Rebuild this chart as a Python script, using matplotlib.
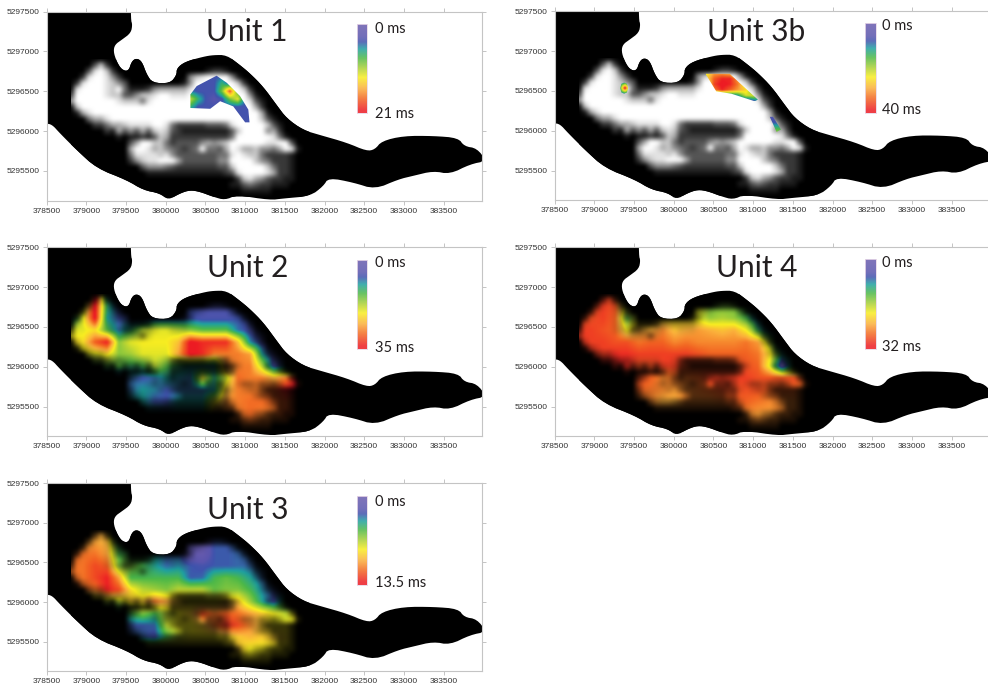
import numpy as np
import matplotlib
matplotlib.use("Agg")
import matplotlib.pyplot as plt
from matplotlib.colors import LinearSegmentedColormap
from matplotlib.patches import Polygon

x_ticks = [378500, 379000, 379500, 380000, 380500, 381000, 381500, 382000, 382500, 383000, 383500]
y_ticks = [5295500, 5296000, 5296500, 5297000, 5297500]

# shoreline outline of the survey area (runs past the axes on the map's west and north sides)
shore_x = [378200, 379560, 379560, 379560, 379580, 379560, 379445, 379360, 379340, 379380, 379445, 379530, 379570,
           379630, 379700, 379760, 379835, 380053, 380137, 380137, 380242, 380472, 380598, 380767, 380934,
           381060, 381228, 381397, 381523, 381732, 381942, 382280, 382530, 382635, 382720, 382995,
           383370, 383685, 383760, 383920, 384040, 383835, 383580, 383370, 383120, 382930, 382635, 382365,
           382050, 381985, 381820, 381480, 381312, 380893, 380745, 380598, 380431, 380305, 380179, 380031, 379927,
           379717, 379508, 379130, 378878, 378667, 378565, 378480, 378200, 378200]
shore_y = [5297800, 5297800, 5297800, 5297395, 5297335, 5297230, 5297145, 5297085, 5297000, 5296875, 5296770, 5296750, 5296875,
           5296915, 5296875, 5296710, 5296605, 5296599, 5296703, 5296787, 5296870, 5296933, 5296954, 5296954, 5296829,
           5296725, 5296557, 5296327, 5296160, 5296013, 5295951, 5295855, 5295750, 5295770, 5295875, 5295940,
           5295940, 5295915, 5295810, 5295785, 5295625, 5295585, 5295460, 5295500, 5295440, 5295395, 5295270, 5295355,
           5295415, 5295310, 5295185, 5295155, 5295135, 5295198, 5295135, 5295176, 5295239, 5295260, 5295219, 5295135, 5295219,
           5295260, 5295386, 5295533, 5295762, 5295972, 5296085, 5296095, 5296095, 5297800]

# data coverage, digits 0-9, on a 75 m grid from the north-west corner
cov_x0, cov_y0, cov_step = 378800, 5296900, 75
coverage_rows = [
 "0000000000 0000000000 0000000000 0000000000 0",
 "0000372000 0000000000 0000000000 0000000000 0",
 "0003897200 0000000000 0001221000 0000000000 0",
 "0028998520 0000000000 5789999510 0000000000 0",
 "0289998753 0000000001 5999999972 0000000000 0",
 "0899998794 1112566666 8999999997 2000000000 0",
 "2999998773 3577899888 9999999999 5100000000 0",
 "5999999987 7748999999 9999999999 8310000000 0",
 "0799999999 9999999999 9999999999 9620000000 0",
 "0168999999 9999999999 9999999999 9961000000 0",
 "0004668999 9999999999 9999999999 9973100000 0",
 "0000224667 8888998422 2223334899 9997310000 0",
 "0000002163 5363787321 1111111379 9995620000 0",
 "0000000010 1121376222 2222222499 9999841000 0",
 "0000000000 3699774233 3356567999 9998899300 0",
 "0000000000 6998675432 3494436986 6755469810 0",
 "0000000000 4888878533 3333344898 7742222100 0",
 "0000000000 2578899963 3333355999 9754222100 0",
 "0000000000 0035554322 2222233799 9997422100 0",
 "0000000000 0001111111 1111112389 9998622100 0",
 "0000000000 0000000000 0000000027 8653221100 0",
 "0000000000 0000000000 0000000113 4322111000 0",
 "0000000000 0000000000 0000000001 1111000000 0",
 "0000000000 0000000000 0000000000 0000000000 0",
]

grid_x = [378800, 378950, 379100, 379250, 379400, 379550, 379700, 379850, 380000, 380150, 380300,
          380450, 380600, 380750, 380900, 381050, 381200, 381350, 381500, 381650, 381800]
grid_y = [5296900, 5296750, 5296600, 5296450, 5296300, 5296150, 5296000, 5295850, 5295700, 5295550, 5295400, 5295250]

unit2_ms = [
 [20, 20, 35, 12, 7, 7, 7, 7, 7, 7, 7, 6, 6, 6, 7, 7, 7, 7, 7, 7, 7],
 [20, 20, 35, 12, 7, 7, 7, 7, 7, 7, 7, 6, 6, 6, 7, 7, 7, 7, 7, 7, 7],
 [10, 20, 35, 10, 7, 7, 7, 7, 7, 7, 7, 6, 6, 6, 7, 7, 7, 7, 7, 7, 7],
 [20, 20, 22, 14, 8, 12, 18, 20, 20, 18, 16, 14, 14, 14, 8, 6, 6, 6, 6, 6, 6],
 [22, 22, 30, 34, 16, 20, 21, 21, 21, 24, 35, 33, 33, 33, 24, 9, 6, 6, 6, 6, 6],
 [20, 20, 20, 22, 16, 17, 20, 20, 20, 26, 35, 33, 28, 28, 28, 26, 10, 6, 6, 6, 6],
 [14, 14, 14, 14, 14, 12, 13, 18, 14, 12, 10, 10, 10, 27, 28, 28, 18, 6, 9, 8, 8],
 [7, 7, 7, 7, 7, 8, 7, 8, 10, 9, 8, 20, 11, 19, 29, 28, 28, 25, 28, 35, 0],
 [8, 8, 8, 8, 8, 8, 10, 9, 7, 8, 8, 8, 10, 24, 28, 28, 28, 30, 34, 35, 30],
 [10, 10, 10, 10, 10, 10, 10, 7, 7, 10, 10, 10, 20, 27, 28, 29, 29, 29, 30, 30, 30],
 [10, 10, 10, 10, 10, 10, 10, 10, 8, 10, 10, 10, 26, 28, 28, 29, 28, 28, 30, 30, 30],
 [28, 28, 28, 28, 28, 28, 28, 28, 28, 28, 28, 28, 28, 28, 28, 28, 28, 28, 28, 28, 28],
]

unit3_ms = [
 [10, 10, 10, 9.5, 5, 5, 1, 1, 1, 1, 1, 0.5, 2.8, 2.8, 3, 3, 3, 3, 3, 3, 3],
 [10, 10, 10, 9.5, 5, 5, 1, 1, 1, 1, 1, 0.5, 2.8, 2.8, 3, 3, 3, 3, 3, 3, 3],
 [11, 11, 11, 10, 5, 5, 5, 4, 3, 3, 1, 0.5, 2.8, 2.8, 3, 3, 3, 3, 3, 3, 3],
 [11, 11, 12, 11.5, 6, 6, 5, 4, 3, 3.5, 2.8, 2.5, 2.8, 2.8, 3, 3, 3, 3, 3, 3, 3],
 [11, 11, 12, 13, 10, 5, 5, 5, 5, 5, 2.8, 3, 5, 5.5, 5, 4, 3, 3, 3, 3, 3],
 [11, 11, 11, 13, 12, 8.5, 7, 6.5, 6, 7, 7, 7, 5.5, 6, 6, 5, 3.5, 2.8, 2.8, 2.8, 2.8],
 [7, 7, 7, 7, 7, 9, 9, 11, 10, 9, 8, 8, 8, 9, 9, 6.5, 4, 2.5, 5, 5, 5],
 [4, 4, 4, 4, 4, 5, 6, 5, 7, 8, 9, 12, 11, 11.5, 11, 10, 9, 8, 7, 8.5, 8],
 [2.8, 2.8, 2.8, 2.8, 2.8, 2.8, 2.8, 3, 7, 8, 8, 9, 11, 12.5, 12, 10.5, 9, 8, 8, 8, 8],
 [3, 3, 3, 3, 3, 3, 3, 2.5, 5, 7, 8, 8, 8, 8.5, 9, 9.5, 9, 9, 8.5, 8, 8],
 [8, 8, 8, 8, 8, 8, 8, 8, 8, 8, 8, 8, 8, 8, 9, 8, 8, 8, 8, 8, 8],
 [8, 8, 8, 8, 8, 8, 8, 8, 8, 8, 8, 8, 8, 8, 8, 8, 8, 8, 8, 8, 8],
]

unit4_ms = [
 [28, 28, 29, 28, 18, 18, 18, 18, 18, 18, 18, 14, 14, 14, 12, 8, 8, 8, 8, 8, 8],
 [28, 28, 29, 28, 18, 18, 18, 18, 18, 18, 18, 14, 14, 14, 12, 8, 8, 8, 8, 8, 8],
 [28, 28, 29, 27, 13, 18, 20, 20, 20, 20, 18, 15, 16, 15, 12, 8, 8, 8, 8, 8, 8],
 [29, 29, 28, 27, 19, 23, 23, 25, 22, 23, 24, 23, 22, 23, 19, 11, 8, 8, 8, 8, 8],
 [29, 29, 29, 28, 28, 26, 27, 27, 25, 26, 25, 25, 25, 25, 26, 24, 16, 8, 8, 8, 8],
 [29, 29, 29, 30, 30, 29, 29, 29, 29, 29, 28, 27, 27, 27, 27, 26, 20, 10, 10, 10, 10],
 [30, 30, 30, 30, 30, 28, 28, 29, 29, 28, 28, 28, 28, 28, 28, 27, 18, 3, 12, 20, 20],
 [28, 28, 28, 28, 28, 28, 27, 25, 26, 26, 27, 29, 29, 29, 29, 28, 28, 28, 28, 27, 27],
 [27, 27, 27, 27, 27, 27, 26, 25, 24, 25, 26, 27, 28, 28, 28, 28, 27, 27, 27, 26, 26],
 [25, 25, 25, 25, 25, 25, 25, 23, 23, 25, 25, 25, 26, 27, 27, 26, 25, 25, 25, 26, 26],
 [25, 25, 25, 25, 25, 25, 25, 25, 25, 25, 25, 25, 25, 26, 25, 24, 24, 25, 25, 25, 25],
 [25, 25, 25, 25, 25, 25, 25, 25, 25, 25, 25, 25, 25, 25, 25, 25, 25, 25, 25, 25, 25],
]

# Unit 1: thickness patch on the grey coverage
u1_x = [380300, 380400, 380500, 380600, 380700, 380800, 380900, 381000, 381100]
u1_y = [5296700, 5296600, 5296500, 5296400, 5296300, 5296200, 5296100]
u1_ms = [
 [4, 4, 4, 4, 4, 4, 4, 4, 4],
 [4, 4, 4, 4, 7, 4, 4, 4, 4],
 [5, 4, 4, 4, 9, 18, 8, 4, 4],
 [11, 7, 4, 3, 4, 9, 12, 4, 4],
 [7, 4, 4, 4, 4, 4, 4, 4, 4],
 [4, 4, 4, 4, 4, 4, 4, 4, 4],
 [4, 4, 4, 4, 4, 4, 4, 4, 4],
]
u1_poly_x = [380310, 380390, 380640, 380770, 380935, 381040, 381055, 381000, 380850, 380685, 380560, 380310]
u1_poly_y = [5296460, 5296565, 5296695, 5296605, 5296440, 5296270, 5296110, 5296110, 5296310, 5296375, 5296280, 5296290]

# Unit 3b: three separate patches
u3b_a_x = [380400, 380500, 380600, 380700, 380800, 380900, 381000, 381100]
u3b_a_y = [5296720, 5296650, 5296580, 5296510, 5296440, 5296370]
u3b_a_ms = [
 [24, 30, 30, 28, 14, 5, 2, 2],
 [25, 34, 38, 38, 30, 18, 5, 2],
 [20, 36, 40, 38, 32, 22, 8, 3],
 [5, 32, 38, 34, 30, 26, 14, 6],
 [2, 4, 6, 8, 12, 22, 22, 10],
 [2, 2, 2, 2, 3, 4, 8, 14],
]
u3b_a_poly_x = [380400, 380705, 380830, 381060, 381020, 380725, 380535]
u3b_a_poly_y = [5296715, 5296715, 5296600, 5296390, 5296370, 5296465, 5296495]

u3b_b_x = [379305, 379340, 379375, 379410, 379445]
u3b_b_y = [5296605, 5296570, 5296535, 5296500, 5296465]
u3b_b_ms = [
 [8, 8, 10, 8, 8],
 [8, 18, 24, 18, 8],
 [10, 24, 40, 24, 10],
 [8, 18, 24, 18, 8],
 [8, 8, 10, 8, 8],
]
u3b_b_poly_x = [379325, 379340, 379375, 379410, 379425, 379410, 379375, 379340]
u3b_b_poly_y = [5296535, 5296590, 5296605, 5296590, 5296535, 5296480, 5296465, 5296480]

u3b_c_x = [381200, 381360]
u3b_c_y = [5296190, 5296100, 5295980]
u3b_c_ms = [[6, 6], [8, 8], [18, 18]]
u3b_c_poly_x = [381210, 381250, 381350, 381295]
u3b_c_poly_y = [5296175, 5296175, 5296015, 5295985]

map_colors = [(0.0, "#6a5cae"), (0.14, "#5a55ad"), (0.2, "#3f53ad"), (0.28, "#1fa0a0"), (0.38, "#4db848"),
              (0.5, "#aed136"), (0.6, "#f8ed21"), (0.72, "#fbb03b"), (0.84, "#f26522"), (0.97, "#ed1c24"), (1.0, "#ed1c24")]
cmap = LinearSegmentedColormap.from_list("unit", map_colors)

XLIM = (378500, 383980)
YLIM = (5295130, 5297500)
W, H = 988, 691
TEXT_FONT = ["Lato", "DejaVu Sans"]
plt.rcParams["font.family"] = ["Liberation Sans", "DejaVu Sans"]
fig = plt.figure(figsize=(W / 100, H / 100), dpi=100, facecolor="white")


def upsample(grid, xs, ys, xi, yi):
    g = np.asarray(grid, float)
    a = np.array([np.interp(xi, xs, row) for row in g])
    order = np.argsort(ys)
    ysort = np.asarray(ys)[order]
    return np.array([np.interp(yi, ysort, a[order, j]) for j in range(len(xi))]).T


def blur(a, n=3, passes=1):
    k = np.ones(n) / n
    for _ in range(passes):
        p = np.pad(a, n // 2, mode="edge")
        p = np.apply_along_axis(lambda r: np.convolve(r, k, mode="valid"), 1, p)
        p = np.apply_along_axis(lambda c: np.convolve(c, k, mode="valid"), 0, p)
        a = p
    return a


def chaikin(px, py, times=2):
    pts = np.column_stack([px, py]).astype(float)
    for _ in range(times):
        nxt = np.roll(pts, -1, axis=0)
        pts = np.column_stack([0.75 * pts + 0.25 * nxt, 0.25 * pts + 0.75 * nxt]).reshape(-1, 2)
    return pts


cov_table = np.array([[int(ch) for ch in row.replace(" ", "")] for row in coverage_rows], float) / 9.0
cov_xs = cov_x0 + cov_step * np.arange(cov_table.shape[1])
cov_ys = cov_y0 - cov_step * np.arange(cov_table.shape[0])
xi = np.linspace(cov_xs[0], cov_xs[-1], 480)
yi = np.linspace(cov_ys[0], cov_ys[-1], 276)
cov = np.clip(blur(upsample(cov_table, cov_xs, cov_ys, xi, yi), 7, 2), 0, 1)
extent = (xi[0], xi[-1], yi[-1], yi[0])
shore_pts = chaikin(shore_x, shore_y)


def make_axes(box):
    l, r, t, b = box
    ax = fig.add_axes([l / W, 1 - b / H, (r - l) / W, (b - t) / H])
    ax.set_xlim(*XLIM)
    ax.set_ylim(*YLIM)
    ax.set_xticks(x_ticks)
    ax.set_yticks(y_ticks)
    ax.ticklabel_format(useOffset=False, style="plain")
    ax.tick_params(top=True, right=True, length=3, width=0.7, color="#c4c4c4", labelsize=6,
                   labelcolor="#333333", pad=2.2)
    for s in ax.spines.values():
        s.set_color("#c4c4c4")
        s.set_linewidth(0.8)
    return ax


def base(ax):
    clip = Polygon(shore_pts, closed=True, facecolor="black", edgecolor="none", transform=ax.transData, zorder=1)
    ax.add_patch(clip)
    return clip


def restore(ax):
    ax.set_xlim(*XLIM)
    ax.set_ylim(*YLIM)


def draw_field(ax, clip, values, vmax):
    v = blur(upsample(values, grid_x, grid_y, xi, yi), 5, 2)
    rgb = cmap(np.clip(v / vmax, 0, 1))[..., :3] * cov[..., None]
    im = ax.imshow(rgb, extent=extent, aspect="auto", interpolation="bilinear", zorder=2)
    im.set_clip_path(clip)
    restore(ax)


def draw_grey(ax, clip):
    im = ax.imshow(cov, extent=extent, aspect="auto", cmap="gray", vmin=0, vmax=1, interpolation="bilinear", zorder=2)
    im.set_clip_path(clip)
    restore(ax)


def draw_patch(ax, xs, ys, ms, vmax, px, py):
    xp = np.linspace(xs[0], xs[-1], 90)
    yp = np.linspace(ys[0], ys[-1], 70)
    v = upsample(ms, xs, ys, xp, yp)
    poly = Polygon(np.column_stack([px, py]), closed=True, transform=ax.transData, facecolor="none", edgecolor="none")
    ax.add_patch(poly)
    im = ax.imshow(v, extent=(xs[0], xs[-1], ys[-1], ys[0]), aspect="auto", cmap=cmap, vmin=0, vmax=vmax,
                   interpolation="bilinear", zorder=3)
    im.set_clip_path(poly)
    restore(ax)


def decorate(title, title_xy, bar, top_label, top_y, bot_label, bot_y, label_x):
    fig.text(title_xy[0] / W, 1 - (title_xy[1] + 1) / H, title, ha="center", va="center", fontsize=21.5,
             family=TEXT_FONT, color="#231f20")
    l, r, t, b = bar
    cax = fig.add_axes([l / W, 1 - b / H, (r - l) / W, (b - t) / H])
    cax.imshow(np.linspace(0, 1, 256)[:, None], cmap=cmap, aspect="auto", alpha=0.85)
    cax.set_xticks([])
    cax.set_yticks([])
    for s in cax.spines.values():
        s.set_color("#e8d8e8")
        s.set_linewidth(0.6)
    for lab, y in ((top_label, top_y), (bot_label, bot_y)):
        fig.text(label_x / W, 1 - y / H, lab, ha="left", va="center", fontsize=10.5,
                 family=TEXT_FONT, color="#231f20")


# Unit 1
ax = make_axes((46.7, 481.7, 11.5, 200.5))
c = base(ax)
draw_grey(ax, c)
draw_patch(ax, u1_x, u1_y, u1_ms, 21, u1_poly_x, u1_poly_y)
decorate("Unit 1", (247, 31), (357, 367, 24, 113), "0 ms", 29, "21 ms", 114, 375)

# Unit 3b
ax = make_axes((554.7, 989.7, 11.3, 200))
c = base(ax)
draw_grey(ax, c)
draw_patch(ax, u3b_a_x, u3b_a_y, u3b_a_ms, 40, u3b_a_poly_x, u3b_a_poly_y)
draw_patch(ax, u3b_b_x, u3b_b_y, u3b_b_ms, 40, u3b_b_poly_x, u3b_b_poly_y)
draw_patch(ax, u3b_c_x, u3b_c_y, u3b_c_ms, 40, u3b_c_poly_x, u3b_c_poly_y)
decorate("Unit 3b", (756, 31), (865, 876, 23, 113), "0 ms", 26, "40 ms", 110, 882)

# Unit 2
ax = make_axes((46.7, 481.7, 247.3, 436))
c = base(ax)
draw_field(ax, c, unit2_ms, 35)
decorate("Unit 2", (248, 267), (357, 367, 260, 349), "0 ms", 263, "35 ms", 348, 375)

# Unit 4
ax = make_axes((554.7, 989.7, 247.3, 436))
c = base(ax)
draw_field(ax, c, unit4_ms, 32)
decorate("Unit 4", (757, 267), (865, 876, 259, 349), "0 ms", 263, "32 ms", 347, 882)

# Unit 3
ax = make_axes((46.7, 481.7, 483.3, 671))
c = base(ax)
draw_field(ax, c, unit3_ms, 13.5)
decorate("Unit 3", (248, 509), (357, 367, 496, 585), "0 ms", 502, "13.5 ms", 583, 375)

fig.savefig("out.png", dpi=100, facecolor="white")
